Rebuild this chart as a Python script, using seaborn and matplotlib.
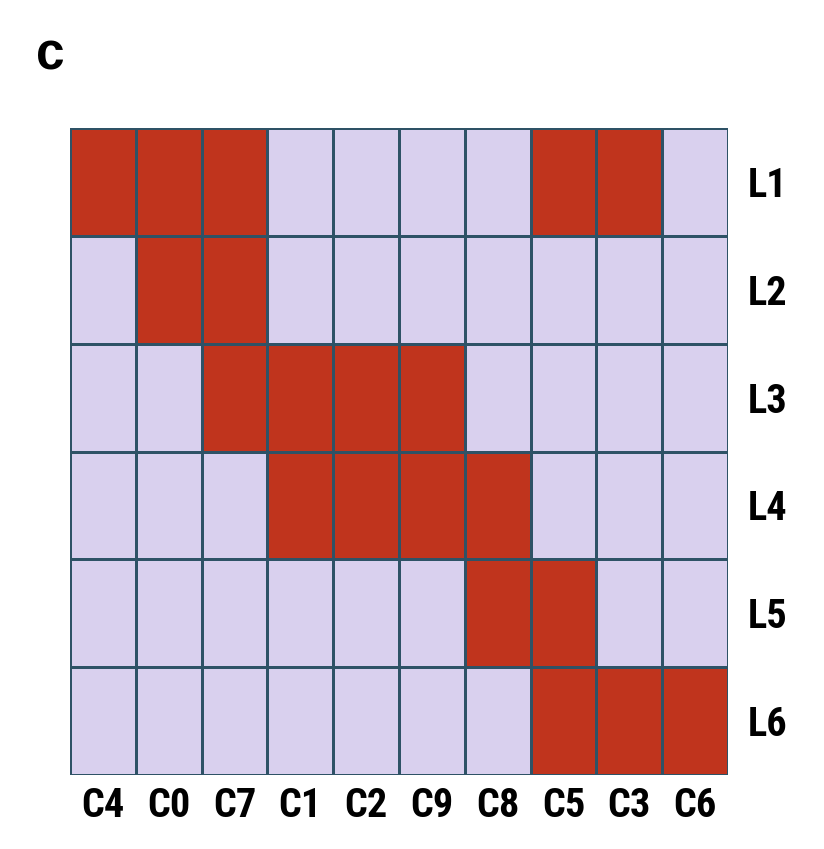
import numpy as np
import pandas as pd
import matplotlib.pyplot as plt
from matplotlib.colors import ListedColormap
import seaborn as sns

# columnas y filas de la matriz
columnas = ['C4', 'C0', 'C7', 'C1', 'C2', 'C9', 'C8', 'C5', 'C3', 'C6']
filas = ['L1', 'L2', 'L3', 'L4', 'L5', 'L6']

# 1 = celda roja, 0 = celda lila
L1 = [1, 1, 1, 0, 0, 0, 0, 1, 1, 0]
L2 = [0, 1, 1, 0, 0, 0, 0, 0, 0, 0]
L3 = [0, 0, 1, 1, 1, 1, 0, 0, 0, 0]
L4 = [0, 0, 0, 1, 1, 1, 1, 0, 0, 0]
L5 = [0, 0, 0, 0, 0, 0, 1, 1, 0, 0]
L6 = [0, 0, 0, 0, 0, 0, 0, 1, 1, 1]

matriz = pd.DataFrame([L1, L2, L3, L4, L5, L6], index=filas, columns=columnas)

sns.set_style('white')
fuente = ['Roboto Condensed', 'Liberation Sans', 'DejaVu Sans']

fig = plt.figure(figsize=(8.24, 8.49), dpi=100)
ax = fig.add_axes([0.085, 0.0872, 0.7985, 0.7618])

cmap = ListedColormap(['#D9D0EE', '#C0341D'])
sns.heatmap(matriz, ax=ax, cmap=cmap, vmin=0, vmax=1, cbar=False,
            linewidths=2.0, linecolor='#2E5266')

ax.yaxis.tick_right()
ax.set_yticklabels(filas, rotation=0, fontsize=29, fontweight='bold', family=fuente, color='black')
ax.set_xticklabels(columnas, rotation=0, fontsize=29, fontweight='bold', family=fuente, color='black')
ax.tick_params(axis='both', length=0)
ax.tick_params(axis='x', pad=9)
ax.tick_params(axis='y', pad=14)
ax.set_xlabel('')
ax.set_ylabel('')

fig.text(0.044, 0.918, 'c', fontsize=37, fontweight='bold',
         family=['Liberation Sans', 'DejaVu Sans'], color='black')

plt.savefig('out.png', dpi=100)
